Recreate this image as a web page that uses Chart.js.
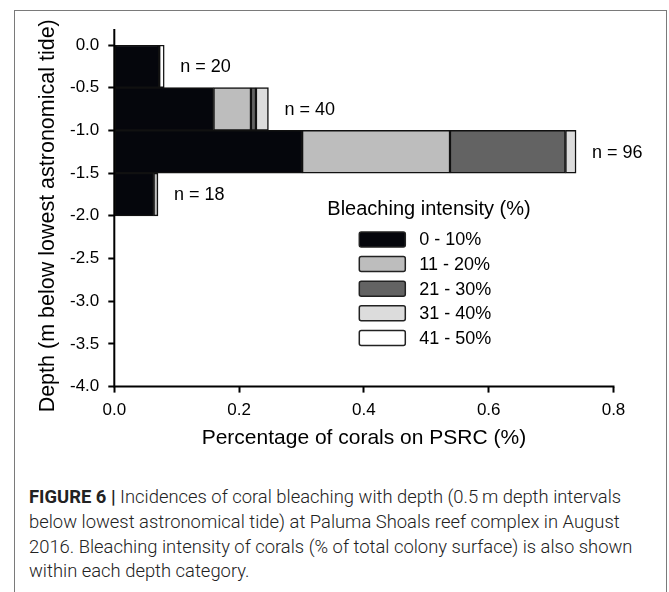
<!DOCTYPE html>
<html>
<head>
<meta charset="utf-8">
<script src="https://cdn.jsdelivr.net/npm/chart.js@4"></script>
<style>
  html, body { margin: 0; padding: 0; background: #fff; }
  body { width: 669px; height: 592px; position: relative; overflow: hidden; }
  #wrap { position: absolute; left: 0; top: 0; width: 669px; height: 470px; }
  #frame {
    position: absolute; left: 14px; top: 10px; width: 651px; height: 600px;
    border: 1.5px solid #7a7a7a; border-bottom: none; pointer-events: none;
  }
  #caption {
    position: absolute; left: 29px; top: 485px; white-space: nowrap;
    font-family: Roboto, "Liberation Sans", Arial, sans-serif; font-weight: 300;
    font-size: 18.4px; line-height: 24.8px; color: #222;
  }
  #caption b { font-weight: 700; }
</style>
</head>
<body>
<div id="wrap"><canvas id="depthChart"></canvas></div>
<div id="caption"><b>FIGURE 6 |</b> Incidences of coral bleaching with depth (0.5&#8201;m depth intervals<br>below lowest astronomical tide) at Paluma Shoals reef complex in August<br>2016. Bleaching intensity of corals (% of total colony surface) is also shown<br>within each depth category.</div>
<div id="frame"></div>
<script>
// depth bins (0.5 m steps), one bar per bin
const depthBins = ['0.0', '-0.5', '-1.0', '-1.5', '-2.0', '-2.5', '-3.0', '-3.5'];
const intensityLabels = ['0 - 10%', '11 - 20%', '21 - 30%', '31 - 40%', '41 - 50%'];

// share of corals on PSRC per bleaching class
const pct0to10  = [0.072, 0.159, 0.301, 0.063, null, null, null, null];
const pct11to20 = [null, 0.060, 0.237, 0.007, null, null, null, null];
const pct21to30 = [null, 0.008, 0.185, null, null, null, null, null];
const pct31to40 = [null, 0.020, 0.017, null, null, null, null, null];
const pct41to50 = [0.008, null, null, null, null, null, null, null];
const sampleSizes = [20, 40, 96, 18];

const depthTicks = [0, -0.5, -1, -1.5, -2, -2.5, -3, -3.5, -4];
const pctTicks = [0, 0.2, 0.4, 0.6, 0.8];

const fillColors = ['#05060c', '#bdbdbd', '#636363', '#dcdcdc', '#ffffff'];
const FONT = "'Liberation Sans', Arial, sans-serif";
const INK = '#000';

const series = [pct0to10, pct11to20, pct21to30, pct31to40, pct41to50];

// n = .. labels at the end of each bar
const countLabels = {
  id: 'countLabels',
  afterDatasetsDraw(chart) {
    const { ctx, scales } = chart;
    ctx.save();
    ctx.font = '18px ' + FONT;
    ctx.fillStyle = INK;
    ctx.textBaseline = 'middle';
    ctx.textAlign = 'left';
    sampleSizes.forEach((n, i) => {
      let total = 0;
      series.forEach(s => { total += s[i] || 0; });
      const x = scales.x.getPixelForValue(total) + 16;
      const y = scales.y.getPixelForValue(i);
      ctx.fillText('n = ' + n, x, y + 1);
    });
    ctx.restore();
  }
};

// axis lines, legend box inside the plot
const insideLegend = {
  id: 'insideLegend',
  afterDraw(chart) {
    const { ctx, chartArea } = chart;
    const L = chartArea.left, T = chartArea.top, B = chartArea.bottom, R = chartArea.right;
    ctx.save();
    ctx.strokeStyle = '#000';
    ctx.lineWidth = 2;
    ctx.beginPath();
    ctx.moveTo(L, T - 16);
    ctx.lineTo(L, B + 1);
    ctx.moveTo(L - 1, B);
    ctx.lineTo(R + 1, B);
    ctx.stroke();

    ctx.fillStyle = INK;
    ctx.font = '20px ' + FONT;
    ctx.textBaseline = 'alphabetic';
    ctx.fillText('Bleaching intensity (%)', L + 213, T + 170);

    ctx.font = '18px ' + FONT;
    ctx.textBaseline = 'middle';
    intensityLabels.forEach((lab, k) => {
      const cy = T + 194.5 + k * 24.6;
      ctx.fillStyle = fillColors[k];
      ctx.strokeStyle = '#222';
      ctx.lineWidth = 1.5;
      ctx.beginPath();
      ctx.roundRect(L + 245, cy - 7.5, 46, 15, 2);
      ctx.fill();
      ctx.stroke();
      ctx.fillStyle = INK;
      ctx.fillText(lab, L + 305, cy + 1);
    });
    ctx.restore();
  }
};

new Chart(document.getElementById('depthChart'), {
  type: 'bar',
  data: {
    labels: depthBins,
    datasets: series.map((s, k) => ({
      label: intensityLabels[k],
      data: s,
      backgroundColor: fillColors[k],
      borderColor: '#111',
      borderWidth: 1.5,
      borderSkipped: false,
      barPercentage: 1,
      categoryPercentage: 1,
      stack: 'depth'
    }))
  },
  options: {
    indexAxis: 'y',
    responsive: true,
    maintainAspectRatio: false,
    animation: false,
    layout: { padding: { left: 0, right: 55.5, top: 45, bottom: 0 } },
    plugins: {
      legend: { display: false },
      tooltip: { enabled: false }
    },
    scales: {
      x: {
        type: 'linear',
        stacked: true,
        min: 0,
        max: 0.8,
        afterBuildTicks(scale) { scale.ticks = pctTicks.map(v => ({ value: v })); },
        afterFit(scale) { scale.height = 83.4; },
        ticks: {
          font: { family: FONT, size: 17 },
          color: INK,
          padding: 8,
          callback: v => v.toFixed(1)
        },
        grid: { drawOnChartArea: false, drawTicks: true, tickLength: 6, tickColor: '#000', tickWidth: 2 },
        border: { display: false },
        title: {
          display: true,
          text: 'Percentage of corals on PSRC (%)',
          font: { family: FONT, size: 21 },
          color: INK,
          padding: { top: 0, bottom: 19 }
        }
      },
      y: {
        type: 'category',
        stacked: true,
        display: false,
        offset: true
      },
      depth: {
        type: 'linear',
        position: 'left',
        axis: 'y',
        offset: false,
        min: -4,
        max: 0,
        afterBuildTicks(scale) { scale.ticks = depthTicks.map(v => ({ value: v })); },
        afterFit(scale) { scale.width = 114.3; },
        ticks: {
          font: { family: FONT, size: 17 },
          color: INK,
          padding: 9,
          callback: v => v.toFixed(1)
        },
        grid: { offset: false, drawOnChartArea: false, drawTicks: true, tickLength: 6, tickColor: '#000', tickWidth: 2 },
        border: { display: false },
        title: {
          display: true,
          text: 'Depth (m below lowest astronomical tide)',
          font: { family: FONT, size: 21.5 },
          color: INK,
          padding: { top: 35, bottom: 0 }
        }
      }
    }
  },
  plugins: [countLabels, insideLegend]
});
</script>
</body>
</html>
